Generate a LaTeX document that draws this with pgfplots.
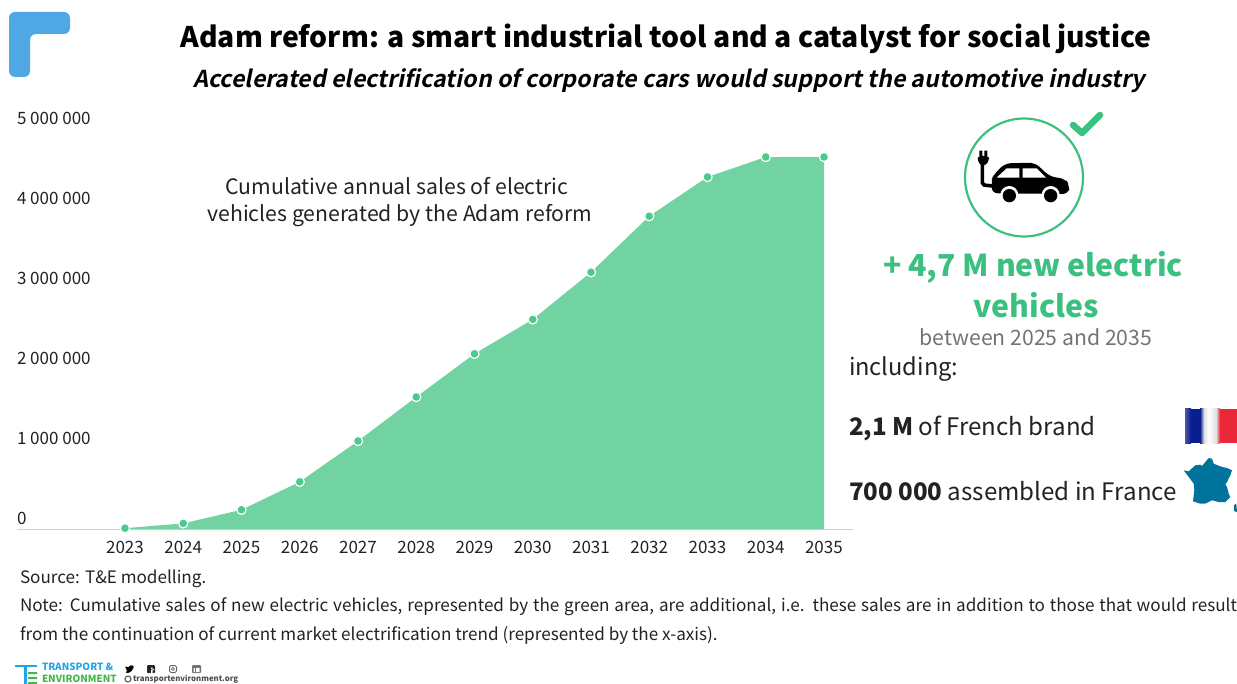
\documentclass[border=0pt]{standalone}
\usepackage{pgfplots}
\pgfplotsset{compat=1.18}
\usepackage{fontspec}
\setmainfont{Noto Sans CJK SC}[ItalicFont={Noto Sans CJK SC},ItalicFeatures={FakeSlant=0.2},BoldItalicFont={Noto Sans CJK SC Bold},BoldItalicFeatures={FakeSlant=0.2}]
\definecolor{areagreen}{HTML}{70D3A1}
\definecolor{markgreen}{HTML}{4CC98B}
\definecolor{iconGreen}{HTML}{3CC07F}
\definecolor{logoblue}{HTML}{4FA8E3}
\definecolor{mapblue}{HTML}{00739D}
\definecolor{txt}{HTML}{222222}
\definecolor{tegreen}{HTML}{45B649}
\definecolor{teblue}{HTML}{1FA5E8}
\definecolor{flagblue}{HTML}{0A1F8F}
\definecolor{flagred}{HTML}{EA2839}
\pgfplotstableread{
year sales
2023 10000
2024 70000
2025 240000
2026 590000
2027 1100000
2028 1650000
2029 2190000
2030 2620000
2031 3210000
2032 3910000
2033 4400000
2034 4650000
2035 4650000
}\evsales
\newcommand{\fs}[1]{\fontsize{#1}{#1}\selectfont}
\begin{document}
\begin{tikzpicture}[x=1pt,y=-1pt,inner sep=0pt,outer sep=0pt]
\useasboundingbox (0,0) rectangle (1237,684);
% cumulative sales area
\begin{axis}[
  at={(17pt,-529pt)},anchor=south west,scale only axis,
  width=836pt,height=400pt,
  xmin=2021.146,xmax=2035.498,ymin=0,ymax=5000000,
  clip=false,
  axis y line=none,
  axis x line=bottom,
  axis x line*=bottom,
  axis line style={draw=black!18,line width=1pt,-},
  xtick={2023,...,2035},
  xticklabel style={/pgf/number format/1000 sep=,font=\fs{17},text=txt,yshift=-10pt},
  /pgf/number format/assume math mode=true,
  tick style={draw=none},
]
\addplot[fill=areagreen,draw=none] table[x=year,y=sales]{\evsales} \closedcycle;
\addplot[only marks,mark=*,mark size=4.6pt,mark options={fill=markgreen,draw=white,line width=1.2pt}] table[x=year,y=sales]{\evsales};
\end{axis}
% value scale labels sit above their levels
\foreach \v/\yy in {5 000 000/118,4 000 000/198,3 000 000/278,2 000 000/358,1 000 000/438,0/518}
  \node[anchor=west,text=txt,font=\fs{17}] at (17,\yy) {\v};
% corner badge
\fill[logoblue,rounded corners=6pt] (9,12) -- (70,12) -- (70,34) -- (30,34) -- (30,77) -- (9,77) -- cycle;
% headings
\node[font=\fs{28.35}\bfseries,text=black] at (666,39) {Adam reform: a smart industrial tool and a catalyst for social justice};
\node[font=\fs{23.25}\bfseries\itshape,text=black] at (669,81) {Accelerated electrification of corporate cars would support the automotive industry};
\node[font=\fs{21.2},text=txt] at (397,186) {Cumulative annual sales of electric};
\node[font=\fs{21.2},text=txt] at (400,216) {vehicles generated by the Adam reform};
% electric car icon
\draw[iconGreen,line width=2.2pt] (1024,177.5) circle (59);
\draw[iconGreen,line width=6.5pt,line cap=round,line join=round] (1073,125) -- (1082,133) -- (1100,115);
\begin{scope}[shift={(940,100)},x=0.3333pt,y=-0.3333pt]
  \draw[black,line width=3.6pt,rounded corners=2pt] (127,185) -- (127,255) -- (160,258);
  \fill[black,rounded corners=3pt] (113,168) -- (147,168) -- (147,182) -- (136,197) -- (122,197) -- (113,182) -- cycle;
  \fill[black] (118,152) rectangle (127,170) (133,152) rectangle (142,170);
  \fill[black,rounded corners=6pt] (155,280) -- (155,240) -- (160,225) -- (195,190) -- (285,188) -- (330,230) -- (375,236) -- (389,255) -- (386,282) -- cycle;
  \fill[white] (170,233) -- (200,205) -- (238,205) -- (238,233) -- cycle;
  \fill[white] (248,205) -- (290,205) -- (318,233) -- (248,233) -- cycle;
  \fill[white] (208,285) circle (27) (332,285) circle (27);
  \fill[black] (208,287) circle (20) (332,287) circle (20);
\end{scope}
% side panel
\node[font=\fs{30.2}\bfseries,text=iconGreen] at (1033,267) {+ 4,7 M new electric};
\node[font=\fs{30.2}\bfseries,text=iconGreen] at (1036,305) {vehicles};
\node[font=\fs{21.2},text=black!55] at (1036,337) {between 2025 and 2035};
\node[anchor=west,font=\fs{23.6},text=txt] at (849,369) {including:};
\node[anchor=west,font=\fs{24.1},text=txt] at (849,428) {\textbf{2,1 M} of French brand};
\node[anchor=west,font=\fs{24.1},text=txt] at (849,491) {\textbf{700 000} assembled in France};
% flag
\shade[left color=flagblue!75!white,right color=flagblue] (1185,409) rectangle (1191,443);
\fill[flagblue] (1191,409) rectangle (1200,443);
\shade[left color=flagblue,right color=black!12] (1200,409) rectangle (1204,443);
\shade[left color=black!12,right color=white] (1204,409) rectangle (1209,443);
\shade[left color=white,right color=black!12] (1209,409) rectangle (1216,443);
\shade[left color=black!12,right color=flagred] (1216,409) rectangle (1220,443);
\fill[flagred] (1220,409) rectangle (1237,443);
% map of France
\fill[mapblue] (1183.7,470.3) -- (1188.7,471.3) -- (1195.3,465.3) -- (1200.3,464.7) -- (1202,466) -- (1208.7,458) -- (1212,458.7) -- (1213.7,463.7) -- (1222,467) -- (1227,468) -- (1232,470.3) -- (1230.3,475.3) -- (1227,482) -- (1225.3,484.3) -- (1227,487) -- (1228.7,493.7) -- (1230.3,497) -- (1225.3,502) -- (1218.7,502) -- (1212,500.3) -- (1205.3,503.7) -- (1200.3,503.7) -- (1193,501.3) -- (1194.3,490.3) -- (1193.7,483.7) -- (1188.7,477) -- cycle;
\fill[mapblue] (1233.7,505.3) -- (1236.3,503.7) -- (1237,512) -- (1234.3,511.3) -- cycle;
% notes; the long line is spread to the full text width
\node[anchor=west,font=\fs{17.1},text=txt] at (20,579) {Source: T\&E modelling.};
\node[anchor=west,font=\fs{17.1},text=txt] at (20,607) {\makebox[1217pt][s]{Note: Cumulative sales of new electric vehicles, represented by the green area, are additional, i.e. these sales are in addition to those that would result}};
\node[anchor=west,font=\fs{17.1},text=txt] at (20,636) {from the continuation of current market electrification trend (represented by the x-axis).};
% footer mark
\fill[teblue] (15,664.5) rectangle (37,667);
\fill[teblue] (23.5,664.5) rectangle (26.5,684);
\fill[tegreen] (28,672) rectangle (37,674) (28,677) rectangle (37,679) (28,682) rectangle (37,684);
\node[anchor=west,font=\fs{9.9}\bfseries,text=teblue] at (42,667) {TRANSPORT \&};
\node[anchor=west,font=\fs{9.9}\bfseries,text=tegreen] at (42,679) {ENVIRONMENT};
\node[anchor=west,font=\fs{7.8}\bfseries,text=black!70] at (133,679) {transportenvironment.org};
\draw[black!60,line width=1.2pt] (128,679) circle (3);
% social icons
\fill[black,rounded corners=1pt] (125,666) -- (128,667.5) -- (131,665) -- (134,666) -- (132.5,670) -- (129,673) -- (125,672.5) -- (127.5,671) -- (126,669) -- cycle;
\fill[black!85,rounded corners=1pt] (147,665) rectangle (155,673);
\fill[white] (151,673) rectangle (152.5,667.5) (151,669) rectangle (154,670.2);
\draw[black!60,line width=1pt,rounded corners=1.5pt] (169.5,665.5) rectangle (176.5,672.5);
\draw[black!60,line width=0.8pt] (173,669) circle (1.6);
\fill[black!55,rounded corners=1pt] (192,665) rectangle (201,673);
\fill[white] (193.5,668) rectangle (194.8,672) (196,668) rectangle (199.5,672);
\end{tikzpicture}
\end{document}
